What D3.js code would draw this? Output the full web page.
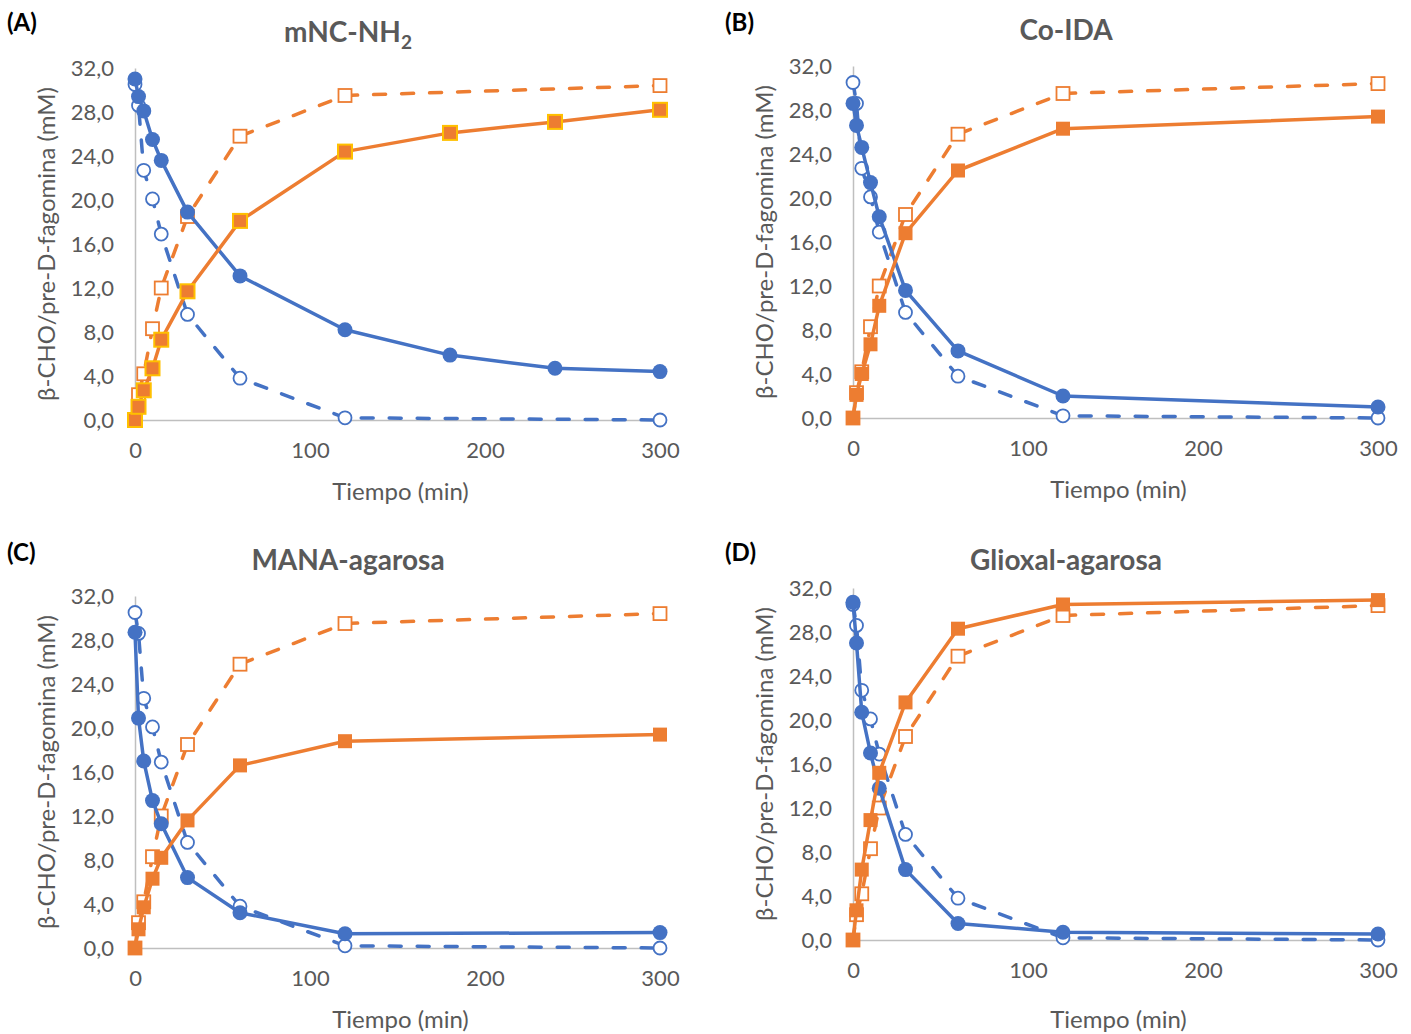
<!DOCTYPE html>
<html><head><meta charset="utf-8">
<script src="https://cdn.jsdelivr.net/npm/d3@7"></script>
<style>
html,body{margin:0;padding:0;background:#fff;}
svg{display:block;font-family:Lato,"Open Sans",sans-serif;}
</style></head>
<body><svg id="c" width="1411" height="1034"></svg>
<script>
// ---- data ----
const timesRef = [0, 2, 5, 10, 15, 30, 60, 120, 300];
const refSubstrate = [30.5, 28.6, 22.7, 20.1, 16.9, 9.6, 3.8, 0.2, 0.0];
const refProduct = [0, 2.3, 4.2, 8.3, 12.0, 18.5, 25.8, 29.5, 30.4];

const timesA = [0, 2, 5, 10, 15, 30, 60, 120, 180, 240, 300];
const substrateA = [31.0, 29.4, 28.1, 25.5, 23.6, 18.9, 13.1, 8.2, 5.9, 4.7, 4.4];
const productA = [0, 1.2, 2.7, 4.7, 7.3, 11.7, 18.1, 24.4, 26.1, 27.1, 28.2];

const timesB = [0, 2, 5, 10, 15, 30, 60, 120, 300];
const substrateB = [28.6, 26.6, 24.6, 21.4, 18.3, 11.6, 6.1, 2.0, 1.0];
const productB = [0, 2.1, 4.0, 6.7, 10.2, 16.8, 22.5, 26.3, 27.4];

const timesC = [0, 2, 5, 10, 15, 30, 60, 120, 300];
const substrateC = [28.7, 20.9, 17.0, 13.4, 11.3, 6.4, 3.2, 1.3, 1.4];
const productC = [0, 1.7, 3.7, 6.3, 8.2, 11.6, 16.6, 18.8, 19.4];

const timesD = [0, 2, 5, 10, 15, 30, 60, 120, 300];
const substrateD = [30.7, 27.0, 20.7, 17.0, 13.8, 6.4, 1.5, 0.7, 0.55];
const productD = [0, 2.7, 6.4, 10.9, 15.2, 21.6, 28.3, 30.5, 30.9];

const panelLabels = ["(A)", "(B)", "(C)", "(D)"];
const panelTitles = [["mNC-NH", "2"], ["Co-IDA", ""], ["MANA-agarosa", ""], ["Glioxal-agarosa", ""]];
const xTicks = [0, 100, 200, 300];
const yTicks = [0, 4, 8, 12, 16, 20, 24, 28, 32];
const xTitle = "Tiempo (min)";
const yTitle = "β-CHO/pre-D-fagomina (mM)";

// ---- layout ----
const BLUE = "#4472C4", ORANGE = "#ED7D31", GOLD = "#FFC000", GRAY = "#595959";
const layout = [
  {x0: 135, x1: 660, y0: 420, y1: 68, lx: 7, ly: 31, tx: 348, ty: 42, yt: 47, xtY: 500},
  {x0: 853, x1: 1378, y0: 418, y1: 66, lx: 725, ly: 31, tx: 1066, ty: 40, yt: 765, xtY: 498},
  {x0: 135, x1: 660, y0: 948, y1: 596, lx: 7, ly: 561, tx: 348, ty: 570, yt: 47, xtY: 1028},
  {x0: 853, x1: 1378, y0: 940, y1: 588, lx: 725, ly: 561, tx: 1066, ty: 570, yt: 765, xtY: 1028}
];
const panelData = [
  {t: timesA, s: substrateA, p: productA, gold: true},
  {t: timesB, s: substrateB, p: productB, gold: false},
  {t: timesC, s: substrateC, p: productC, gold: false},
  {t: timesD, s: substrateD, p: productD, gold: false}
];

const svg = d3.select("#c");
const fmt = d => d.toFixed(1).replace(".", ",");

panelData.forEach((pd, i) => {
  const L = layout[i];
  const x = d3.scaleLinear().domain([0, 300]).range([L.x0, L.x1]);
  const y = d3.scaleLinear().domain([0, 32]).range([L.y0, L.y1]);
  const g = svg.append("g");

  // axes
  const xa = g.append("g").attr("transform", `translate(0,${L.y0})`)
    .call(d3.axisBottom(x).tickValues(xTicks).tickSize(0).tickPadding(22).tickFormat(d3.format("d")));
  xa.select(".domain").attr("stroke", "#BFBFBF").attr("stroke-width", 1.5);
  xa.selectAll("text").attr("fill", GRAY).attr("font-size", 22).attr("font-family", "Lato");
  const ya = g.append("g").attr("transform", `translate(${L.x0},0)`)
    .call(d3.axisLeft(y).tickValues(yTicks).tickSize(0).tickPadding(21).tickFormat(fmt));
  ya.select(".domain").attr("stroke", "#BFBFBF").attr("stroke-width", 1.5);
  ya.selectAll("text").attr("fill", GRAY).attr("font-size", 22).attr("font-family", "Lato");

  // titles
  g.append("text").attr("x", L.lx).attr("y", L.ly).attr("font-weight", "bold")
    .attr("font-size", 24).attr("fill", "#000").text(panelLabels[i]);
  const tt = g.append("text").attr("x", L.tx).attr("y", L.ty).attr("text-anchor", "middle")
    .attr("font-weight", "bold").attr("font-size", 28).attr("fill", GRAY);
  tt.append("tspan").text(panelTitles[i][0]);
  if (panelTitles[i][1]) tt.append("tspan").attr("font-size", 19).attr("dy", 7).text(panelTitles[i][1]);
  g.append("text").attr("x", (L.x0 + L.x1) / 2 + 3).attr("y", L.xtY).attr("text-anchor", "middle")
    .attr("font-size", 24).attr("fill", GRAY).text(xTitle);
  g.append("text").attr("transform", `translate(${L.yt + 8},${(L.y0 + L.y1) / 2}) rotate(-90)`)
    .attr("text-anchor", "middle").attr("font-size", 24).attr("fill", GRAY).text(yTitle);

  const line = d3.line().x(d => x(d[0])).y(d => y(d[1]));
  const refS = timesRef.map((t, k) => [t, refSubstrate[k]]);
  const refP = timesRef.map((t, k) => [t, refProduct[k]]);
  const S = pd.t.map((t, k) => [t, pd.s[k]]);
  const P = pd.t.map((t, k) => [t, pd.p[k]]);

  // dashed reference substrate
  g.append("path").datum(refS).attr("d", line).attr("fill", "none").attr("stroke", BLUE)
    .attr("stroke-width", 3.5).attr("stroke-dasharray", "12 16").attr("stroke-linecap", "round");
  g.selectAll(null).data(refS).enter().append("circle")
    .attr("cx", d => x(d[0])).attr("cy", d => y(d[1])).attr("r", 6.5)
    .attr("fill", "#fff").attr("stroke", BLUE).attr("stroke-width", 1.8);
  // dashed reference product
  g.append("path").datum(refP).attr("d", line).attr("fill", "none").attr("stroke", ORANGE)
    .attr("stroke-width", 3.5).attr("stroke-dasharray", "12 16").attr("stroke-linecap", "round");
  g.selectAll(null).data(refP).enter().append("rect")
    .attr("x", d => x(d[0]) - 6.5).attr("y", d => y(d[1]) - 6.5).attr("width", 13).attr("height", 13)
    .attr("fill", "#fff").attr("stroke", ORANGE).attr("stroke-width", 1.8);
  // solid substrate
  g.append("path").datum(S).attr("d", line).attr("fill", "none").attr("stroke", BLUE)
    .attr("stroke-width", 3.5).attr("stroke-linejoin", "round");
  g.selectAll(null).data(S).enter().append("circle")
    .attr("cx", d => x(d[0])).attr("cy", d => y(d[1])).attr("r", 7.5).attr("fill", BLUE);
  // solid product
  g.append("path").datum(P).attr("d", line).attr("fill", "none").attr("stroke", ORANGE)
    .attr("stroke-width", 3.5).attr("stroke-linejoin", "round");
  g.selectAll(null).data(P).enter().append("rect")
    .attr("x", d => x(d[0]) - 7).attr("y", d => y(d[1]) - 7).attr("width", 14).attr("height", 14)
    .attr("fill", ORANGE).attr("stroke", pd.gold ? GOLD : "none").attr("stroke-width", 2);
});
</script></body></html>
